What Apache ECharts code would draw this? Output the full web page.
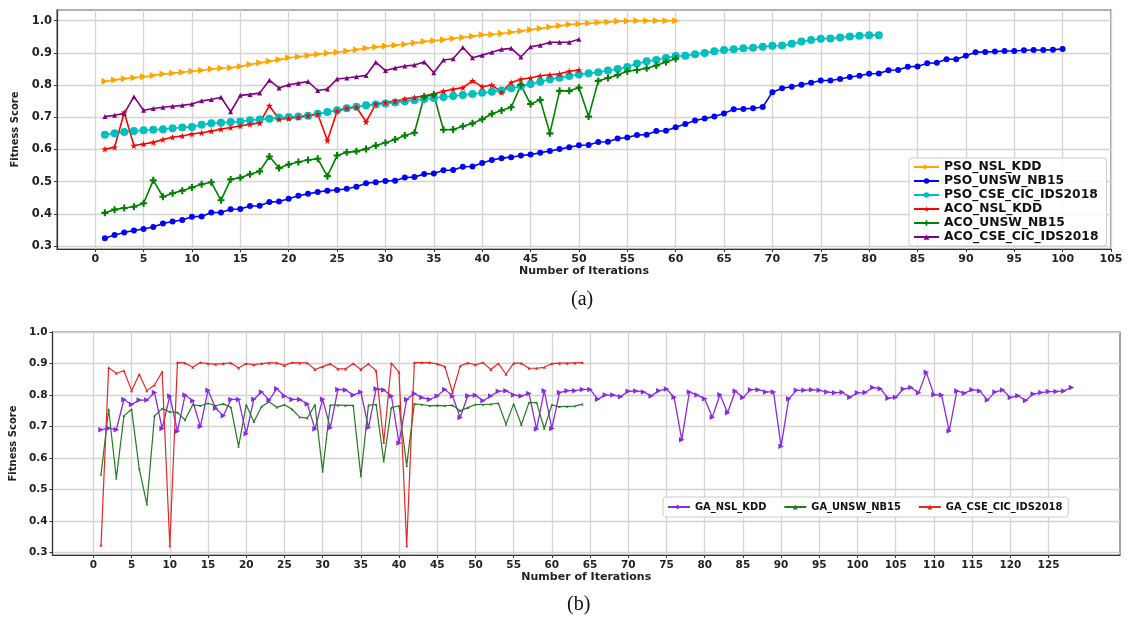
<!DOCTYPE html>
<html>
<head>
<meta charset="utf-8">
<script src="https://cdn.jsdelivr.net/npm/echarts@6/dist/echarts.min.js"></script>
<style>
  html, body { margin: 0; padding: 0; background: #fff; }
  #chart { width: 1134px; height: 621px; }
</style>
</head>
<body>
<div id="chart"></div>
<script>
// ---- (a) PSO / ACO fitness per iteration ----
const psoNslKdd = [
  0.812,0.816,0.820,0.823,0.826,0.830,0.834,0.837,0.840,0.843,
  0.846,0.850,0.852,0.854,0.858,0.864,0.869,0.874,0.879,0.885,
  0.888,0.892,0.896,0.899,0.902,0.906,0.910,0.914,0.918,0.921,
  0.924,0.927,0.931,0.935,0.938,0.941,0.945,0.948,0.952,0.956,
  0.957,0.960,0.964,0.968,0.972,0.976,0.980,0.984,0.988,0.990,
  0.992,0.994,0.996,0.998,0.999,1.000,1.000,1.000,1.000,1.000
];
const psoUnswNb15 = [
  0.324,0.334,0.342,0.348,0.353,0.359,0.370,0.376,0.381,0.391,
  0.392,0.404,0.404,0.414,0.415,0.424,0.425,0.437,0.438,0.447,
  0.456,0.462,0.468,0.472,0.474,0.478,0.484,0.495,0.498,0.502,
  0.503,0.513,0.514,0.524,0.525,0.535,0.536,0.546,0.547,0.558,
  0.567,0.573,0.576,0.581,0.584,0.590,0.595,0.601,0.607,0.613,
  0.614,0.623,0.624,0.634,0.637,0.645,0.646,0.657,0.658,0.669,
  0.679,0.690,0.696,0.702,0.712,0.725,0.726,0.728,0.732,0.778,
  0.790,0.795,0.801,0.807,0.814,0.814,0.819,0.825,0.829,0.835,
  0.836,0.846,0.847,0.857,0.858,0.868,0.869,0.880,0.880,0.891,
  0.902,0.903,0.904,0.906,0.906,0.908,0.909,0.909,0.910,0.912
];
const psoCseCic = [
  0.646,0.650,0.654,0.657,0.660,0.661,0.663,0.666,0.668,0.670,
  0.677,0.681,0.683,0.685,0.687,0.691,0.693,0.695,0.699,0.701,
  0.702,0.705,0.711,0.716,0.722,0.728,0.733,0.737,0.740,0.743,
  0.746,0.750,0.753,0.757,0.760,0.763,0.766,0.769,0.772,0.776,
  0.779,0.783,0.790,0.796,0.803,0.810,0.818,0.823,0.828,0.833,
  0.837,0.840,0.845,0.850,0.856,0.867,0.874,0.878,0.884,0.890,
  0.891,0.896,0.900,0.905,0.909,0.911,0.914,0.916,0.919,0.922,
  0.923,0.928,0.935,0.940,0.944,0.945,0.948,0.951,0.953,0.955,
  0.955
];
const acoNslKdd = [
  0.601,0.607,0.715,0.612,0.617,0.622,0.631,0.638,0.642,0.648,
  0.652,0.657,0.663,0.668,0.673,0.678,0.682,0.736,0.694,0.696,
  0.700,0.705,0.710,0.628,0.719,0.728,0.731,0.686,0.741,0.746,
  0.750,0.757,0.761,0.767,0.772,0.781,0.787,0.792,0.813,0.795,
  0.800,0.778,0.808,0.818,0.822,0.829,0.832,0.835,0.843,0.847
];
const acoUnswNb15 = [
  0.403,0.413,0.418,0.422,0.433,0.504,0.453,0.464,0.472,0.482,
  0.492,0.498,0.442,0.507,0.512,0.523,0.532,0.578,0.542,0.553,
  0.561,0.567,0.571,0.517,0.581,0.591,0.594,0.601,0.612,0.621,
  0.631,0.643,0.652,0.764,0.770,0.661,0.662,0.672,0.681,0.694,
  0.711,0.721,0.731,0.800,0.741,0.754,0.650,0.782,0.782,0.792,
  0.702,0.813,0.822,0.831,0.843,0.847,0.852,0.861,0.872,0.882
];
const acoCseCic = [
  0.702,0.706,0.712,0.764,0.722,0.727,0.731,0.734,0.737,0.741,
  0.751,0.755,0.762,0.717,0.768,0.771,0.775,0.815,0.791,0.801,
  0.806,0.811,0.783,0.788,0.819,0.822,0.826,0.830,0.871,0.845,
  0.853,0.859,0.862,0.872,0.838,0.878,0.882,0.917,0.885,0.893,
  0.902,0.911,0.914,0.887,0.919,0.924,0.933,0.933,0.933,0.942
];

// ---- (b) GA fitness per iteration ----
const gaNslKdd = [
  0.690,0.695,0.690,0.786,0.770,0.784,0.784,0.808,0.694,0.797,
  0.685,0.800,0.782,0.700,0.815,0.758,0.734,0.786,0.786,0.677,
  0.787,0.810,0.784,0.820,0.797,0.786,0.786,0.772,0.692,0.787,
  0.696,0.818,0.816,0.800,0.810,0.697,0.820,0.816,0.797,0.648,
  0.786,0.805,0.792,0.786,0.797,0.818,0.797,0.729,0.798,0.799,
  0.782,0.797,0.812,0.814,0.800,0.797,0.805,0.692,0.814,0.694,
  0.808,0.814,0.814,0.818,0.818,0.787,0.800,0.800,0.795,0.812,
  0.813,0.810,0.797,0.814,0.819,0.793,0.658,0.810,0.800,0.788,
  0.730,0.801,0.744,0.813,0.792,0.817,0.817,0.810,0.810,0.638,
  0.788,0.815,0.815,0.817,0.815,0.810,0.807,0.809,0.793,0.807,
  0.808,0.824,0.820,0.790,0.793,0.819,0.824,0.807,0.872,0.801,
  0.800,0.686,0.813,0.806,0.817,0.813,0.784,0.810,0.816,0.792,
  0.798,0.783,0.803,0.808,0.811,0.811,0.813,0.824
];
const gaUnswNb15 = [
  0.548,0.755,0.536,0.734,0.755,0.566,0.454,0.734,0.757,0.747,
  0.745,0.721,0.769,0.766,0.774,0.766,0.772,0.761,0.637,0.769,
  0.715,0.763,0.779,0.761,0.769,0.755,0.730,0.727,0.769,0.558,
  0.768,0.768,0.767,0.767,0.543,0.768,0.770,0.590,0.760,0.766,
  0.576,0.772,0.770,0.766,0.767,0.766,0.768,0.750,0.760,0.770,
  0.770,0.771,0.774,0.707,0.772,0.706,0.776,0.776,0.694,0.769,
  0.763,0.764,0.765,0.771
];
const gaCseCic = [
  0.324,0.887,0.869,0.877,0.814,0.866,0.814,0.832,0.874,0.322,
  0.903,0.902,0.888,0.903,0.900,0.898,0.900,0.902,0.886,0.900,
  0.896,0.900,0.902,0.902,0.894,0.903,0.902,0.902,0.881,0.890,
  0.899,0.883,0.883,0.900,0.881,0.899,0.877,0.650,0.901,0.872,
  0.322,0.903,0.903,0.903,0.899,0.890,0.808,0.892,0.902,0.896,
  0.903,0.881,0.900,0.866,0.901,0.901,0.885,0.885,0.888,0.900,
  0.901,0.901,0.902,0.903
];

// ---- tick labels ----
const xTicksA = [0,5,10,15,20,25,30,35,40,45,50,55,60,65,70,75,80,85,90,95,100,105];
const xTicksB = [0,5,10,15,20,25,30,35,40,45,50,55,60,65,70,75,80,85,90,95,100,105,110,115,120,125];
const yTicks = [0.3,0.4,0.5,0.6,0.7,0.8,0.9,1.0];

const FONT = 'DejaVu Sans';
const STAR = 'path://M50,0 L61,35 L98,35 L68,57 L79,91 L50,70 L21,91 L32,57 L2,35 L39,35 Z';
const PLUS = 'path://M35,0 H65 V35 H100 V65 H65 V100 H35 V65 H0 V35 H35 Z';

const pts = vals => vals.map((v, i) => [i + 1, v]);

function xAxisCfg(gridIndex, min, max, ticks, fontSize, nameGap) {
  return {
    type: 'value', gridIndex, min, max,
    name: 'Number of Iterations', nameLocation: 'middle', nameGap,
    nameTextStyle: { fontFamily: FONT, fontWeight: 'bold', fontSize: 11, color: '#222' },
    axisLine: { show: true, onZero: false, lineStyle: { color: '#333', width: 1.2 } },
    axisTick: { show: true, length: 3, customValues: ticks, lineStyle: { color: '#333' } },
    axisLabel: { customValues: ticks, fontFamily: FONT, fontWeight: 'bold', fontSize, color: '#222', margin: 5,
                 formatter: v => String(v) },
    splitLine: { show: true, lineStyle: { color: '#d4d4d4', width: 1.3 } }
  };
}
function yAxisCfg(gridIndex, min, max, fontSize, nameGap) {
  return {
    type: 'value', gridIndex, min, max,
    name: 'Fitness Score', nameLocation: 'middle', nameGap, nameRotate: 90,
    nameTextStyle: { fontFamily: FONT, fontWeight: 'bold', fontSize: 10, color: '#222' },
    axisLine: { show: true, onZero: false, lineStyle: { color: '#333', width: 1.2 } },
    axisTick: { show: true, length: 3, customValues: yTicks, lineStyle: { color: '#333' } },
    axisLabel: { customValues: yTicks, fontFamily: FONT, fontWeight: 'bold', fontSize, color: '#222', margin: 5,
                 formatter: v => v.toFixed(1) },
    splitLine: { show: true, lineStyle: { color: '#d4d4d4', width: 1.3 } }
  };
}
function lineSeries(name, vals, color, symbol, symbolSize, width, axis, extra) {
  return Object.assign({
    name, type: 'line', data: pts(vals), xAxisIndex: axis, yAxisIndex: axis,
    symbol, symbolSize, showSymbol: true,
    lineStyle: { color, width },
    itemStyle: { color, borderWidth: 0 },
    emphasis: { disabled: true }
  }, extra || {});
}

const chart = echarts.init(document.getElementById('chart'), null, { renderer: 'canvas' });
chart.setOption({
  animation: false,
  backgroundColor: '#fff',
  grid: [
    { left: 57, top: 10, width: 1054, height: 239, show: true, borderColor: '#666', borderWidth: 1.2 },
    { left: 43, top: 332, width: 1077, height: 223, show: true, borderColor: '#666', borderWidth: 1.2 }
  ],
  xAxis: [
    xAxisCfg(0, -3.95, 105, xTicksA, 11, 15),
    xAxisCfg(1, -5.35, 134.35, xTicksB, 10.5, 16)
  ],
  yAxis: [
    yAxisCfg(0, 0.2907, 1.0332, 11.5, 34),
    yAxisCfg(1, 0.2927, 1.0, 10.5, 24)
  ],
  legend: [
    {
      orient: 'vertical', left: 909, top: 158, itemWidth: 25, itemHeight: 7, itemGap: 2,
      padding: [3, 8, 3, 4], backgroundColor: 'rgba(255,255,255,0.85)', borderColor: '#ccc', borderWidth: 1, borderRadius: 3,
      textStyle: { fontFamily: FONT, fontWeight: 'bold', fontSize: 12.3, color: '#111', lineHeight: 12 },
      data: ['PSO_NSL_KDD','PSO_UNSW_NB15','PSO_CSE_CIC_IDS2018','ACO_NSL_KDD','ACO_UNSW_NB15','ACO_CSE_CIC_IDS2018']
    },
    {
      orient: 'horizontal', left: 663, top: 497, itemWidth: 22, itemHeight: 6, itemGap: 17,
      padding: [5, 6, 5, 4], backgroundColor: 'rgba(255,255,255,0.85)', borderColor: '#ccc', borderWidth: 1, borderRadius: 3,
      textStyle: { fontFamily: FONT, fontWeight: 'bold', fontSize: 9.9, color: '#111' },
      data: ['GA_NSL_KDD','GA_UNSW_NB15','GA_CSE_CIC_IDS2018']
    }
  ],
  graphic: [
    { type: 'text', left: 571, top: 290, style: { text: '(a)', font: '20px "Liberation Serif"', fill: '#111' } },
    { type: 'text', left: 567, top: 595, style: { text: '(b)', font: '20px "Liberation Serif"', fill: '#111' } }
  ],
  series: [
    lineSeries('PSO_NSL_KDD', psoNslKdd, '#FFA500', 'triangle', 7, 1.6, 0, { symbolRotate: -90 }),
    lineSeries('PSO_UNSW_NB15', psoUnswNb15, '#0000FF', 'circle', 6, 1.6, 0),
    lineSeries('PSO_CSE_CIC_IDS2018', psoCseCic, '#00BFBF', 'circle', 8, 1.6, 0),
    lineSeries('ACO_NSL_KDD', acoNslKdd, '#FF0000', STAR, 7, 1.6, 0),
    lineSeries('ACO_UNSW_NB15', acoUnswNb15, '#008000', PLUS, 7, 1.6, 0),
    lineSeries('ACO_CSE_CIC_IDS2018', acoCseCic, '#800080', 'triangle', 5, 1.6, 0),
    lineSeries('GA_NSL_KDD', gaNslKdd, '#8A2BE2', 'triangle', 5.5, 1.3, 1, { symbolRotate: -90 }),
    lineSeries('GA_UNSW_NB15', gaUnswNb15, '#237A23', 'triangle', 2.5, 1.2, 1),
    lineSeries('GA_CSE_CIC_IDS2018', gaCseCic, '#E82626', 'triangle', 3, 1.2, 1)
  ]
});
</script>
</body>
</html>
